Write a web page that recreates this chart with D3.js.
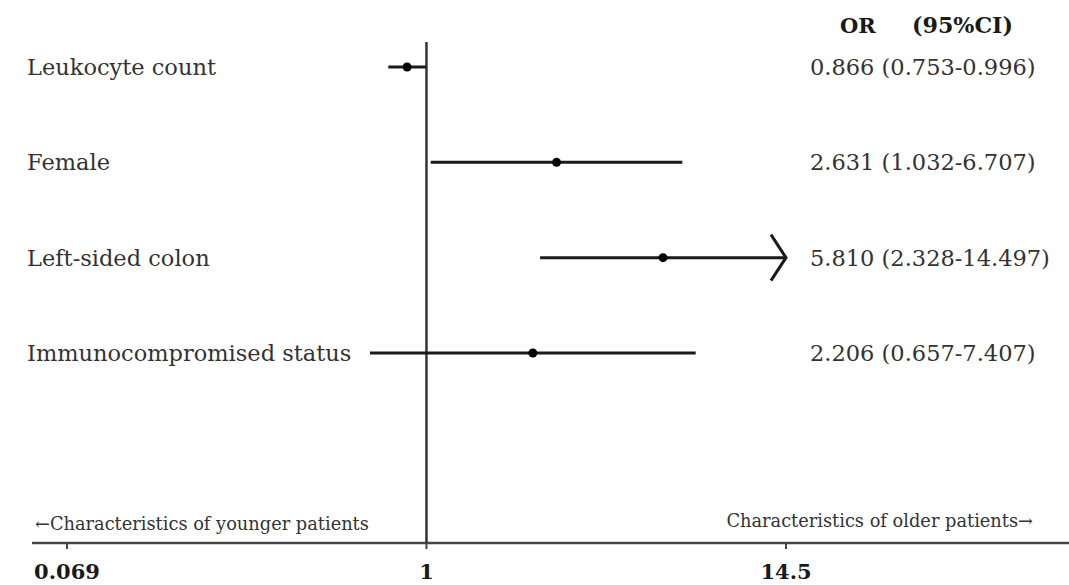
<!DOCTYPE html>
<html>
<head>
<meta charset="utf-8">
<script src="https://cdn.jsdelivr.net/npm/d3@7"></script>
<style>
  html, body { margin: 0; padding: 0; background: #fff; }
  svg { display: block; }
  text { font-family: "DejaVu Serif", "Liberation Serif", serif; }
</style>
</head>
<body>
<svg id="chart" width="1069" height="585"></svg>
<script>
// Multivariable odds ratios with 95% confidence intervals
const variables = ["Leukocyte count", "Female", "Left-sided colon", "Immunocompromised status"];
const oddsRatio = [0.866, 2.631, 5.810, 2.206];
const ciLower   = [0.753, 1.032, 2.328, 0.657];
const ciUpper   = [0.996, 6.707, 14.497, 7.407];
const tickValues = [0.069, 1, 14.5];
const tickLabels = ["0.069", "1", "14.5"];

const W = 1069, H = 585;
const svg = d3.select("#chart");

const x = d3.scaleLog().domain([0.069, 14.5]).range([67, 786]);
const y = d3.scalePoint().domain(variables).range([67, 353]);
const axisY = 543;

const ink = "#1a1a1a";
const textInk = "#333";

// horizontal axis
svg.append("line")
  .attr("x1", 32).attr("x2", W)
  .attr("y1", axisY).attr("y2", axisY)
  .attr("stroke", "#444").attr("stroke-width", 2.5);

svg.append("g")
  .selectAll("line")
  .data(tickValues)
  .join("line")
  .attr("x1", d => x(d)).attr("x2", d => x(d))
  .attr("y1", axisY).attr("y2", axisY + 6)
  .attr("stroke", "#444").attr("stroke-width", 2);

svg.append("g")
  .selectAll("text")
  .data(tickValues)
  .join("text")
  .attr("x", d => x(d))
  .attr("y", 579)
  .attr("text-anchor", "middle")
  .attr("font-size", 21)
  .attr("font-weight", "bold")
  .attr("fill", ink)
  .text((d, i) => tickLabels[i]);

// line of no effect
svg.append("line")
  .attr("x1", x(1)).attr("x2", x(1))
  .attr("y1", 42).attr("y2", axisY)
  .attr("stroke", "#333").attr("stroke-width", 2.5);

// direction notes
svg.append("text")
  .attr("x", 35).attr("y", 530)
  .attr("font-size", 17.8)
  .attr("fill", textInk)
  .text("\u2190Characteristics of younger patients");

svg.append("text")
  .attr("x", 1033).attr("y", 527)
  .attr("text-anchor", "end")
  .attr("font-size", 17.8)
  .attr("fill", textInk)
  .text("Characteristics of older patients\u2192");

// column header
svg.append("text")
  .attr("x", 840).attr("y", 33)
  .attr("font-size", 21).attr("font-weight", "bold")
  .attr("fill", ink)
  .text("OR");
svg.append("text")
  .attr("x", 912).attr("y", 33)
  .attr("font-size", 22.2).attr("font-weight", "bold")
  .attr("fill", ink)
  .text("(95%CI)");

const rows = variables.map((v, i) => ({
  name: v, or: oddsRatio[i], lo: ciLower[i], hi: ciUpper[i]
}));

const g = svg.append("g");

// variable names
g.selectAll("text.name")
  .data(rows)
  .join("text")
  .attr("class", "name")
  .attr("x", 27)
  .attr("y", d => y(d.name) + 8)
  .attr("font-size", 22.5)
  .attr("fill", textInk)
  .text(d => d.name);

// confidence interval lines
g.selectAll("line.ci")
  .data(rows)
  .join("line")
  .attr("class", "ci")
  .attr("x1", d => x(d.lo))
  .attr("x2", d => x(d.hi))
  .attr("y1", d => y(d.name))
  .attr("y2", d => y(d.name))
  .attr("stroke", ink)
  .attr("stroke-width", 3);

// open arrowhead where the upper bound reaches the axis limit
g.selectAll("path.arrow")
  .data(rows.filter(d => d.hi >= x.domain()[1] * 0.99))
  .join("path")
  .attr("class", "arrow")
  .attr("d", d => {
    const tx = x(d.hi), ty = y(d.name);
    return `M${tx - 15},${ty - 23} L${tx},${ty} L${tx - 15},${ty + 23}`;
  })
  .attr("fill", "none")
  .attr("stroke", ink)
  .attr("stroke-width", 3);

// point estimates
g.selectAll("circle.or")
  .data(rows)
  .join("circle")
  .attr("class", "or")
  .attr("cx", d => x(d.or))
  .attr("cy", d => y(d.name))
  .attr("r", 4.5)
  .attr("fill", "#000");

// OR (95%CI) values
g.selectAll("text.val")
  .data(rows)
  .join("text")
  .attr("class", "val")
  .attr("x", 810)
  .attr("y", d => y(d.name) + 8)
  .attr("font-size", 22.5)
  .attr("fill", textInk)
  .text(d => `${d.or.toFixed(3)} (${d.lo.toFixed(3)}-${d.hi.toFixed(3)})`);
</script>
</body>
</html>
